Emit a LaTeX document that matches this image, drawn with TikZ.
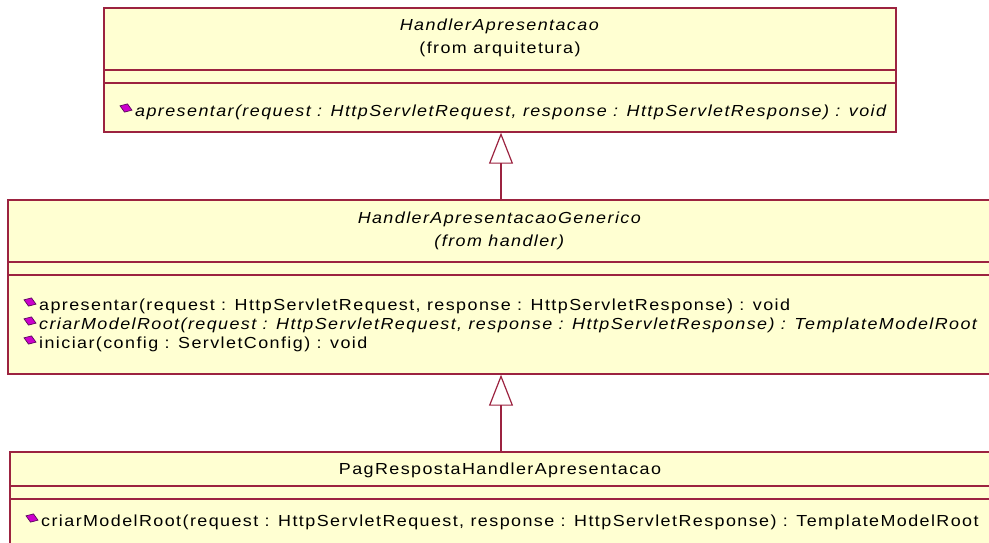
\documentclass[tikz,border=0pt]{standalone}
\usepackage{fontspec}
\setmainfont{Liberation Sans}[FakeStretch=1.12,LetterSpace=8.9]
\usetikzlibrary{arrows.meta, shapes.geometric, positioning}
\definecolor{roseborder}{HTML}{9C2340}
\definecolor{rosefill}{HTML}{FFFFD2}
\definecolor{opmagenta}{HTML}{CC00CC}
\definecolor{opedge}{HTML}{5A0A5A}

\begin{document}
\begin{tikzpicture}[
    x=1pt, y=-1pt,
    classbox/.style={
        draw=roseborder, fill=rosefill, line width=1.4pt,
        rectangle, inner sep=0pt
    },
    sep/.style={draw=roseborder, line width=1.4pt},
    title/.style={align=center, inner sep=0pt, font=\fontsize{16}{23}\selectfont},
    op/.style={anchor=west, inner sep=0pt, font=\fontsize{16}{19}\selectfont},
    opicon/.style={
        diamond, draw=opedge, fill=opmagenta, line width=0.7pt,
        minimum width=13pt, minimum height=9pt, inner sep=0pt, rotate=-20
    },
    gen/.style={
        draw=roseborder, line width=1.2pt,
        -{Triangle[open, length=31pt, width=24pt]}
    }
]
\path[use as bounding box, clip] (0,0) rectangle (989,542);
\fill[white] (0,0) rectangle (989,542);

% HandlerApresentacao
\node[classbox, minimum width=792pt, minimum height=124pt] (apres) at (500,70) {};
\draw[sep] (apres.west |- 0,70) -- (apres.east |- 0,70);
\draw[sep] (apres.west |- 0,83) -- (apres.east |- 0,83);
\node[title] (apresname) at (500,38) {\textit{HandlerApresentacao}\\(from arquitetura)};
\node[opicon] (apresicon) at (126,108) {};
\node[op] (apresop) at (135,112) {\textit{apresentar(request : HttpServletRequest, response : HttpServletResponse) : void}};

% HandlerApresentacaoGenerico
\node[classbox, minimum width=990pt, minimum height=174pt] (generico) at (503,287) {};
\draw[sep] (generico.west |- 0,262) -- (generico.east |- 0,262);
\draw[sep] (generico.west |- 0,275) -- (generico.east |- 0,275);
\node[title] (genericoname) at (500,231) {\textit{HandlerApresentacaoGenerico}\\\textit{(from handler)}};
\node[opicon] (genericoicon1) at (30,302) {};
\node[op] (genericoop1) at (39,306) {apresentar(request : HttpServletRequest, response : HttpServletResponse) : void};
\node[opicon] (genericoicon2) at (30,321) {};
\node[op] (genericoop2) at (39,325) {\textit{criarModelRoot(request : HttpServletRequest, response : HttpServletResponse) : TemplateModelRoot}};
\node[opicon] (genericoicon3) at (30,340) {};
\node[op] (genericoop3) at (39,344) {iniciar(config : ServletConfig) : void};

% PagRespostaHandlerApresentacao
\node[classbox, minimum width=990pt, minimum height=110pt] (pagresposta) at (505,507) {};
\draw[sep] (pagresposta.west |- 0,486) -- (pagresposta.east |- 0,486);
\draw[sep] (pagresposta.west |- 0,499) -- (pagresposta.east |- 0,499);
\node[title] (pagrespostaname) at (500,470) {PagRespostaHandlerApresentacao};
\node[opicon] (pagrespostaicon) at (32,518) {};
\node[op] (pagrespostaop) at (41,522) {criarModelRoot(request : HttpServletRequest, response : HttpServletResponse) : TemplateModelRoot};

% generalizations
\draw[gen] (generico.north -| 501,0) -- (apres.south -| 501,0);
\draw[gen] (pagresposta.north -| 501,0) -- (generico.south -| 501,0);

\end{tikzpicture}
\end{document}
